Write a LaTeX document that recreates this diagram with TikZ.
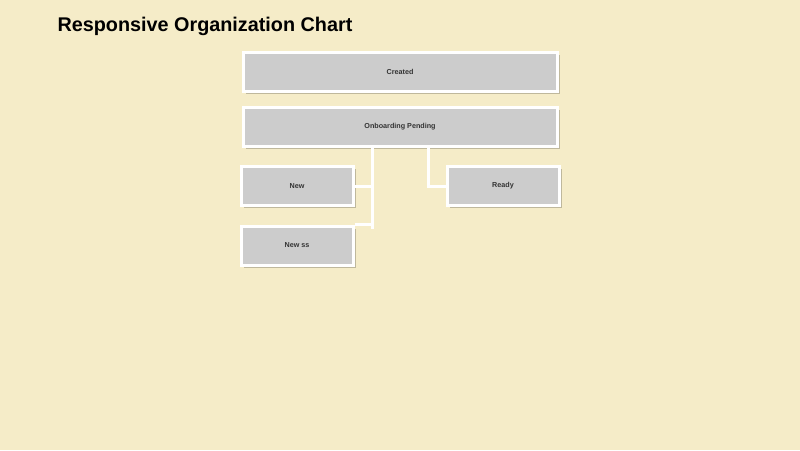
\documentclass[tikz,border=0pt]{standalone}
\usepackage{fontspec}
\setmainfont{Liberation Sans}
\usetikzlibrary{shadows}
\definecolor{bgc}{HTML}{F5ECC8}
\definecolor{boxc}{HTML}{CCCCCC}
\definecolor{txtc}{HTML}{333333}
\tikzset{
  orgbox/.style={draw=white, line width=3pt, fill=boxc, minimum height=39pt, inner sep=0pt,
    font=\bfseries\fontsize{7.2}{8.5}\selectfont, text=txtc,
    drop shadow={shadow xshift=2.5pt, shadow yshift=-2.5pt, opacity=0.22, fill=black}},
  link/.style={draw=white, line width=3pt}
}
\begin{document}
\begin{tikzpicture}[x=1pt,y=-1pt]
\useasboundingbox[fill=bgc] (0,0) rectangle (800,450);
\node[anchor=base west, font=\bfseries\fontsize{19.8}{24}\selectfont] (title) at (54,31) {Responsive Organization Chart};
\node[orgbox, minimum width=314pt] (created) at (400,71.5) {Created};
\node[orgbox, minimum width=314pt] (onb) at (400,126.5) {Onboarding Pending};
\node[orgbox, minimum width=112pt] (new) at (297,186) {New};
\node[orgbox, minimum width=112pt] (ready) at (503,186) {Ready};
\node[orgbox, minimum width=112pt] (newss) at (297,245.5) {New ss};
\coordinate (j1) at (372,229);
\draw[link] (onb.south -| j1) -- (j1);
\draw[link] (new.east) -- (new.east -| j1);
\draw[link] (newss.north east) -- (newss.north east -| j1);
\draw[link] (onb.south -| 428,0) |- (ready.west);
\end{tikzpicture}
\end{document}
